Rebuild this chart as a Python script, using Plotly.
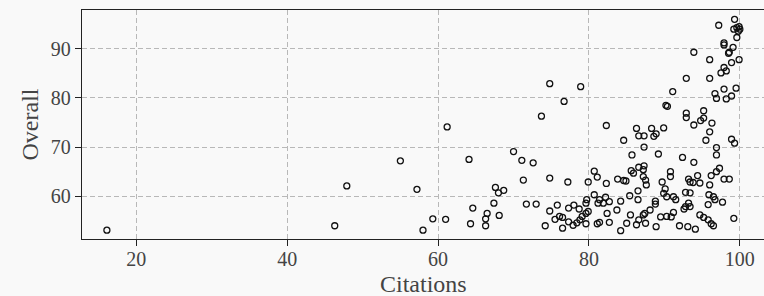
import plotly.graph_objects as go

citations = [
    # upper right cluster
    99.3, 97.2, 99.2, 99.6, 99.9, 100.0, 99.8, 99.6, 97.9, 97.9, 99.1, 98.6, 98.5, 93.9, 96.0, 99.9,
    98.9, 97.9, 97.5, 98.2, 92.9, 96.0, 97.9, 99.5, 96.7, 96.9, 98.2, 98.9, 91.1, 90.2, 90.4, 92.9,
    92.9, 95.2, 93.9, 94.8, 95.2, 96.3, 96.0, 95.5, 96.9, 96.9, 98.9, 99.3, 92.4, 93.9, 97.3, 96.9,
    96.2, 97.9, 98.6, 94.4, 93.2, 93.4, 93.8, 94.7, 96.0, 92.8, 93.4, 95.9, 96.5, 96.7, 97.7, 95.8,
    93.2, 92.8, 92.6, 93.4, 94.7, 95.2, 95.8, 96.2, 96.5, 99.2, 92.0, 93.1, 94.1,
    # middle
    82.3, 86.3, 86.6, 87.3, 88.3, 88.9, 88.6, 89.9, 84.6, 87.3, 85.7, 89.2, 86.6, 87.3, 85.6, 85.9,
    87.2, 87.5, 87.6, 87.2, 83.8, 84.6, 84.9, 80.7, 81.1, 79.9, 82.3, 89.7, 90.8, 90.8, 90.1, 89.9,
    90.3, 91.2, 91.5, 85.4, 86.5, 86.5, 84.2, 80.7, 81.4, 82.2, 82.7, 81.9, 81.2, 79.7, 79.6, 79.9,
    88.8, 88.8, 88.1, 87.4, 87.2, 83.7, 82.4, 85.5, 89.5, 90.3, 90.9, 91.2, 81.4, 81.1, 82.7, 85.0,
    86.3, 86.6, 87.5, 88.9, 84.2, 79.6,
    # left
    74.8, 78.9, 76.7, 73.7, 70.0, 71.1, 72.6, 71.3, 74.8, 77.2, 71.7, 73.0, 74.8, 75.8, 74.2, 75.5,
    76.5, 76.1, 76.5, 77.3, 78.0, 78.7, 79.1, 78.8, 77.3, 77.9, 78.4, 79.6,
    61.2, 55.0, 64.1, 47.9, 57.2, 67.6, 68.0, 68.7, 67.4, 64.6, 66.5, 66.3, 66.3, 68.1, 64.3, 59.3,
    61.0, 58.0, 46.3, 16.1,
]

overall = [
    96.0, 94.8, 94.0, 94.3, 94.5, 94.0, 93.6, 92.3, 91.2, 90.8, 90.3, 89.3, 89.1, 89.3, 87.8, 87.8,
    87.2, 86.2, 85.1, 85.5, 84.0, 84.0, 81.8, 82.0, 80.9, 79.9, 79.8, 80.4, 81.3, 78.5, 78.3, 76.9,
    76.0, 77.4, 74.5, 75.4, 75.9, 74.9, 73.1, 71.4, 69.9, 68.4, 71.6, 70.8, 67.9, 66.9, 65.7, 65.0,
    64.2, 63.5, 63.5, 64.2, 63.5, 62.9, 62.8, 62.7, 62.3, 60.8, 60.7, 60.3, 59.9, 59.3, 58.8, 58.3,
    58.6, 57.9, 57.4, 57.9, 56.2, 55.7, 55.2, 54.4, 54.0, 55.5, 54.0, 53.8, 53.3,
    74.4, 73.8, 72.3, 72.3, 73.8, 72.7, 72.2, 73.9, 71.4, 70.0, 68.4, 68.6, 65.9, 66.2, 65.2, 64.7,
    65.4, 63.3, 62.3, 64.0, 63.5, 63.2, 63.1, 65.1, 63.9, 62.9, 62.6, 62.9, 65.0, 64.0, 61.5, 60.6,
    59.9, 59.9, 59.3, 60.1, 61.1, 59.3, 59.0, 60.3, 59.3, 59.8, 58.9, 58.6, 58.6, 59.3, 58.6, 56.9,
    59.0, 58.4, 57.2, 56.5, 56.2, 57.2, 56.5, 56.2, 55.8, 55.9, 55.8, 56.7, 54.7, 54.4, 54.7, 54.5,
    54.2, 55.2, 54.5, 53.8, 53.0, 54.4,
    82.9, 82.3, 79.3, 76.3, 69.1, 67.3, 66.8, 63.3, 63.7, 62.9, 58.4, 58.4, 57.0, 58.2, 54.0, 55.3,
    55.7, 55.9, 53.5, 57.6, 58.2, 57.4, 55.9, 55.2, 54.8, 54.1, 54.6, 56.5,
    74.1, 67.2, 67.5, 62.1, 61.4, 61.8, 60.7, 61.2, 58.6, 57.6, 56.5, 55.4, 54.0, 56.1, 54.4, 55.4,
    55.3, 53.1, 54.0, 53.1,
]

x_ticks = [20, 40, 60, 80, 100]
y_ticks = [60, 70, 80, 90]
x_title = "Citations"
y_title = "Overall"

FONT = "Liberation Serif"
BG = "#f9f9f9"
TXT = "#444444"

fig = go.Figure(
    go.Scatter(
        x=citations,
        y=overall,
        mode="markers",
        marker=dict(
            symbol="circle",
            size=6,
            color="rgba(0,0,0,0)",
            line=dict(color="#111111", width=1.3),
        ),
        showlegend=False,
        cliponaxis=False,
    )
)

axis_common = dict(
    showline=True,
    linecolor="#222222",
    linewidth=1.3,
    mirror=True,
    ticks="outside",
    ticklen=6,
    tickwidth=1.2,
    tickcolor="#222222",
    showgrid=True,
    gridcolor="#b8b8b8",
    gridwidth=1,
    griddash="5px,3px",
    zeroline=False,
    automargin=False,
    tickfont=dict(family=FONT, size=20, color=TXT),
)

fig.update_xaxes(
    range=[12.8, 103.2],
    tickvals=x_ticks,
    ticktext=[str(t) for t in x_ticks],
    ticklabelstandoff=-4,
    **axis_common,
)
fig.update_yaxes(
    range=[51.3, 97.9],
    tickvals=y_ticks,
    ticktext=[str(t) for t in y_ticks],
    **axis_common,
)

fig.add_annotation(
    text=x_title, xref="paper", yref="paper", x=0.5, y=0,
    xanchor="center", yanchor="middle", yshift=-45, showarrow=False,
    font=dict(family=FONT, size=24, color=TXT),
)
fig.add_annotation(
    text=y_title, xref="paper", yref="paper", x=0, y=0.5, xshift=-53,
    xanchor="center", yanchor="middle", textangle=-90, showarrow=False,
    font=dict(family=FONT, size=24, color=TXT),
)

fig.update_layout(
    width=764,
    height=296,
    margin=dict(l=82, r=0, t=10, b=57),
    paper_bgcolor=BG,
    plot_bgcolor=BG,
    font=dict(family=FONT),
)

fig.write_html(
    "out.html",
    config={"displayModeBar": False},
    post_script="document.body.style.margin='0';document.body.style.background='#f9f9f9';",
)
